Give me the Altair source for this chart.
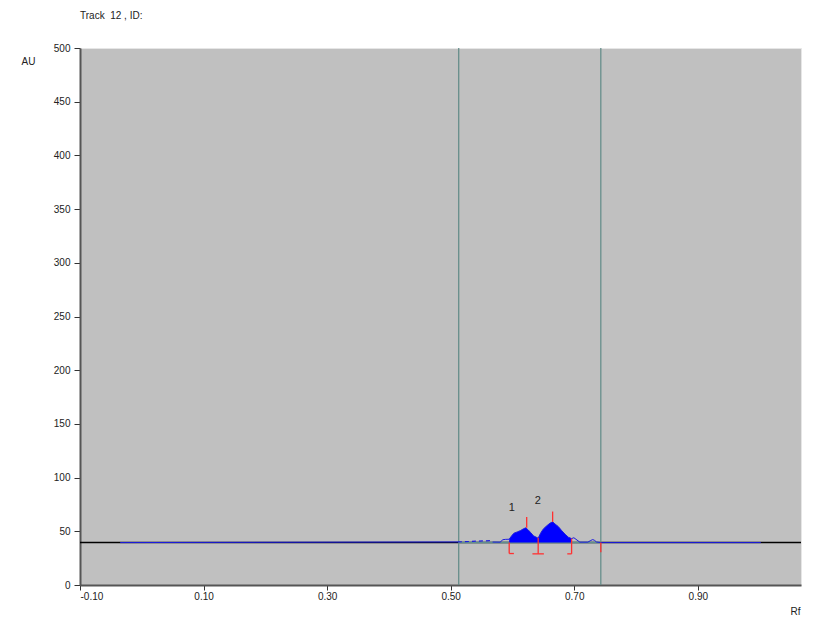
import altair as alt
import pandas as pd

# ---- data ----
BASE = 39.5
sig_rf = [-0.035, 0.5117, 0.5634, 0.568, 0.580, 0.5845, 0.589, 0.5947, 0.5985, 0.6023,
          0.6077, 0.6131, 0.6174, 0.6213, 0.6255, 0.6294, 0.6342, 0.6416, 0.6455, 0.6497,
          0.6552, 0.6606, 0.6650, 0.6687, 0.6741, 0.6796, 0.6851, 0.6904, 0.6957, 0.6994,
          0.7090, 0.7220, 0.7268, 0.7300, 0.7330, 0.7360, 0.743, 1.002]
sig_au = [39.5, 40.1, 41.3, 40.0, 39.9, 42.2, 42.5, 42.6, 45.7, 48.2,
          49.4, 50.7, 52.2, 53.2, 51.3, 48.8, 45.7, 43.6, 48.2, 52.0,
          55.0, 57.5, 58.8, 56.9, 54.4, 50.7, 47.3, 44.5, 43.2, 44.0,
          39.9, 39.9, 41.5, 42.3, 41.5, 40.0, 39.5, 39.5]
# index range of the signal drawn dashed (noise just inside the window)
dash_from, dash_to = 1, 3

win_rf = [0.513, 0.743]            # vertical window lines
peak_rf = [0.623, 0.665]           # peak maxima
peak_top = [53.2, 58.8]
peak_tick_top = [63.2, 68.4]
peak_names = ["1", "2"]
label_rf = [0.599, 0.641]
label_au = [71.8, 78.4]
bound_rf = [0.5947, 0.6416, 0.6957, 0.743]
bound_top = [39.5, 44.0, 43.2, 39.5]
bound_bot = [29.3, 29.0, 29.0, 30.5]
foot_x1 = [0.5947, 0.6323, 0.6887]
foot_x2 = [0.6023, 0.6508, 0.6957]
foot_y = [29.3, 29.0, 29.0]

x_ticks = [-0.10, 0.10, 0.30, 0.50, 0.70, 0.90]
y_ticks = list(range(0, 501, 50))

FONT = "Liberation Sans"
XD = [-0.1, 1.067]

sig = pd.DataFrame({"rf": sig_rf, "au": sig_au})
sig["base"] = BASE
area_df = sig[(sig.rf >= 0.5947) & (sig.rf <= 0.6957)]
solid_a = sig.iloc[:dash_from + 1]
dashed = sig.iloc[dash_from:dash_to + 1]
solid_b = sig.iloc[dash_to:]

xs = alt.Scale(domain=XD, nice=False, zero=False)
ys = alt.Scale(domain=[0, 500], nice=False)

X = alt.X("rf:Q", scale=xs, title="Rf",
          axis=alt.Axis(values=x_ticks, grid=False,
                        labelExpr="replace(format(datum.value, '.2f'), '\u2212', '-')",
                        domainColor="#555555", domainWidth=2, tickColor="#333333",
                        tickSize=5, labelFontSize=10, labelFont=FONT, labelColor="#222222",
                        labelPadding=1, titleFont=FONT, titleFontSize=10, titleFontWeight="normal",
                        titleColor="#222222", titleX=715, titleY=26, titleAlign="center",
                        titleBaseline="middle"))
Y = alt.Y("au:Q", scale=ys, title="AU",
          axis=alt.Axis(values=y_ticks, grid=False, domainColor="#555555", domainWidth=2,
                        tickColor="#333333", tickSize=6, labelFontSize=10, labelFont=FONT,
                        labelColor="#222222", labelPadding=4, titleFont=FONT, titleFontSize=10,
                        titleFontWeight="normal", titleColor="#222222", titleAngle=0,
                        titleX=-52, titleY=13, titleAlign="center", titleBaseline="middle"))

base_rule = alt.Chart(pd.DataFrame({"au": [BASE]})).mark_rule(
    color="#000000", strokeWidth=1.5).encode(y=alt.Y("au:Q", scale=ys))

win_base = alt.Chart(pd.DataFrame({"rf": [win_rf[0]], "rf2": [win_rf[1]], "au": [BASE]})).mark_rule(
    color="#5f8f8f", strokeWidth=1.5).encode(x=alt.X("rf:Q", scale=xs), x2="rf2:Q",
                                             y=alt.Y("au:Q", scale=ys))

win_lines = alt.Chart(pd.DataFrame({"rf": win_rf})).mark_rule(
    color="#5f8a86", strokeWidth=1.2).encode(x=alt.X("rf:Q", scale=xs))

area = alt.Chart(area_df).mark_area(color="#0000ff", opacity=1, interpolate="linear").encode(
    x=alt.X("rf:Q", scale=xs), y=alt.Y("au:Q", scale=ys), y2="base:Q")

line_a = alt.Chart(solid_a).mark_line(color="#1c1ce0", strokeWidth=1).encode(x=X, y=Y)
line_d = alt.Chart(dashed).mark_line(color="#1c1ce0", strokeWidth=1.2, strokeDash=[4, 3]).encode(
    x=alt.X("rf:Q", scale=xs), y=alt.Y("au:Q", scale=ys))
line_b = alt.Chart(solid_b).mark_line(color="#1c1ce0", strokeWidth=1).encode(
    x=alt.X("rf:Q", scale=xs), y=alt.Y("au:Q", scale=ys))

ticks = alt.Chart(pd.DataFrame({"rf": peak_rf, "a": peak_top, "b": peak_tick_top})).mark_rule(
    color="#ff3030", strokeWidth=1.3).encode(x=alt.X("rf:Q", scale=xs), y=alt.Y("a:Q", scale=ys), y2="b:Q")

bounds = alt.Chart(pd.DataFrame({"rf": bound_rf, "a": bound_top, "b": bound_bot})).mark_rule(
    color="#ff3030", strokeWidth=1.3).encode(x=alt.X("rf:Q", scale=xs), y=alt.Y("a:Q", scale=ys), y2="b:Q")

feet = alt.Chart(pd.DataFrame({"x1": foot_x1, "x2": foot_x2, "y": foot_y})).mark_rule(
    color="#ff3030", strokeWidth=1.3).encode(x=alt.X("x1:Q", scale=xs), x2="x2:Q", y=alt.Y("y:Q", scale=ys))

labels = alt.Chart(pd.DataFrame({"rf": label_rf, "au": label_au, "t": peak_names})).mark_text(
    font=FONT, fontSize=11, color="#222222").encode(
    x=alt.X("rf:Q", scale=xs), y=alt.Y("au:Q", scale=ys), text="t:N")

chart = alt.layer(base_rule, win_base, win_lines, area, line_a, line_d, line_b,
                  ticks, bounds, feet, labels).properties(
    width=721, height=537,
    title=alt.TitleParams("Track\u00a0 12 , ID:", anchor="start", frame="group", font=FONT,
                          fontSize=10, fontWeight="normal", color="#222222", offset=22),
    padding={"left": 72, "top": 40, "right": 17, "bottom": 32},
    autosize=alt.AutoSizeParams(type="none"),
    background="#ffffff",
).configure_view(fill="#c0c0c0", stroke="#e6e6e6", strokeWidth=1)

chart.save("out.html", embed_options={"renderer": "svg", "actions": False})
